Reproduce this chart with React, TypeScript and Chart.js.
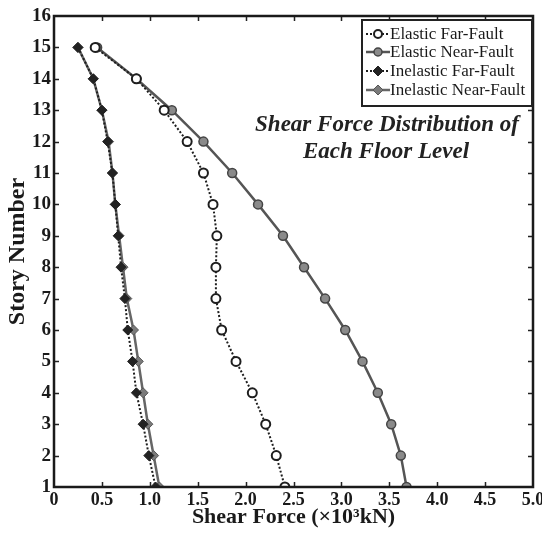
import React, { useEffect, useRef } from "react";
import { Chart, registerables } from "chart.js";

Chart.register(...registerables);

const stories = [15, 14, 13, 12, 11, 10, 9, 8, 7, 6, 5, 4, 3, 2, 1];
const elasticFar = [0.43, 0.86, 1.15, 1.39, 1.56, 1.66, 1.70, 1.69, 1.69, 1.75, 1.90, 2.07, 2.21, 2.32, 2.41];
const elasticNear = [0.45, 0.86, 1.23, 1.56, 1.86, 2.13, 2.39, 2.61, 2.83, 3.04, 3.22, 3.38, 3.52, 3.62, 3.68];
const inelasticFar = [0.25, 0.41, 0.50, 0.56, 0.61, 0.64, 0.67, 0.70, 0.74, 0.77, 0.82, 0.86, 0.93, 0.99, 1.06];
const inelasticNear = [0.25, 0.41, 0.50, 0.57, 0.61, 0.64, 0.68, 0.72, 0.76, 0.83, 0.88, 0.93, 0.98, 1.04, 1.10];
const legendLabels = ["Elastic Far-Fault", "Elastic Near-Fault", "Inelastic Far-Fault", "Inelastic Near-Fault"];
const noteLines = ["Shear Force Distribution of", "Each Floor Level"];

const SERIF = "'Liberation Serif', 'Times New Roman', serif";

const styles = [
  { color: "#1e1e1e", width: 2, dash: [2, 2], shape: "circle", radius: 4.5, fill: "#ffffff", border: "#1e1e1e", bw: 2 },
  { color: "#555555", width: 2.5, dash: [], shape: "circle", radius: 4.5, fill: "#8a8a8a", border: "#444444", bw: 1.5 },
  { color: "#1e1e1e", width: 2, dash: [2, 2], shape: "rectRot", radius: 5, fill: "#222222", border: "#222222", bw: 1 },
  { color: "#666666", width: 2.5, dash: [], shape: "rectRot", radius: 5, fill: "#7a7a7a", border: "#555555", bw: 1 },
];

const seriesList = [elasticFar, elasticNear, inelasticFar, inelasticNear];

const framePlugin = {
  id: "frame",
  afterDatasetsDraw(chart: any) {
    const { ctx, chartArea: a, scales } = chart;
    const xs = scales.x, ys = scales.y;
    ctx.save();
    ctx.strokeStyle = "#222";
    ctx.lineWidth = 1.5;
    ctx.setLineDash([]);
    const tl = 5;
    ctx.beginPath();
    for (let v = 0.5; v < 5; v += 0.5) {
      const px = Math.round(xs.getPixelForValue(v)) + 0.5;
      ctx.moveTo(px, a.bottom); ctx.lineTo(px, a.bottom - tl);
      ctx.moveTo(px, a.top); ctx.lineTo(px, a.top + tl);
    }
    for (let v = 2; v < 16; v += 1) {
      const py = Math.round(ys.getPixelForValue(v)) + 0.5;
      ctx.moveTo(a.left, py); ctx.lineTo(a.left + tl, py);
      ctx.moveTo(a.right, py); ctx.lineTo(a.right - tl, py);
    }
    ctx.stroke();
    ctx.lineWidth = 2.5;
    ctx.strokeStyle = "#1a1a1a";
    ctx.strokeRect(a.left, a.top, a.right - a.left, a.bottom - a.top);

    // note text
    ctx.fillStyle = "#222";
    ctx.font = `bold italic 23px ${SERIF}`;
    ctx.textAlign = "center";
    ctx.textBaseline = "middle";
    ctx.fillText(noteLines[0], 387, 125);
    ctx.fillText(noteLines[1], 386, 152);

    // legend
    const bx = 362, by = 20, bw = 170, bh = 86;
    ctx.fillStyle = "#fff";
    ctx.fillRect(bx, by, bw, bh);
    ctx.lineWidth = 2;
    ctx.strokeStyle = "#222";
    ctx.strokeRect(bx, by, bw, bh);
    ctx.font = `17px ${SERIF}`;
    ctx.textAlign = "left";
    ctx.textBaseline = "middle";
    const rows = [34, 52, 71, 90];
    styles.forEach((s, i) => {
      const y = rows[i];
      ctx.save();
      ctx.strokeStyle = s.color;
      ctx.lineWidth = s.width;
      ctx.setLineDash(s.dash);
      ctx.beginPath();
      ctx.moveTo(366, y); ctx.lineTo(390, y);
      ctx.stroke();
      ctx.setLineDash([]);
      ctx.fillStyle = s.fill;
      ctx.strokeStyle = s.border;
      ctx.lineWidth = s.bw;
      ctx.beginPath();
      const cx = 378;
      if (s.shape === "circle") {
        ctx.arc(cx, y, 4, 0, Math.PI * 2);
      } else {
        ctx.moveTo(cx, y - s.radius); ctx.lineTo(cx + s.radius, y);
        ctx.lineTo(cx, y + s.radius); ctx.lineTo(cx - s.radius, y); ctx.closePath();
      }
      ctx.fill(); ctx.stroke();
      ctx.restore();
      ctx.fillStyle = "#1a1a1a";
      ctx.fillText(legendLabels[i], 390, y + 1);
    });
    ctx.restore();
  },
};

export default function App() {
  const ref = useRef<HTMLCanvasElement | null>(null);
  useEffect(() => {
    document.body.style.margin = "0";
    const canvas = ref.current!;
    const chart = new Chart(canvas, {
      type: "scatter",
      data: {
        datasets: seriesList.map((vals, i) => {
          const s = styles[i];
          return {
            label: legendLabels[i],
            data: vals.map((v, j) => ({ x: v, y: stories[j] })),
            showLine: true,
            borderColor: s.color,
            borderWidth: s.width,
            borderDash: s.dash,
            pointStyle: s.shape as any,
            pointRadius: s.radius,
            pointBackgroundColor: s.fill,
            pointBorderColor: s.border,
            pointBorderWidth: s.bw,
            order: i % 2 === 0 ? 0 : 1,
          };
        }),
      },
      options: {
        animation: false,
        responsive: false,
        devicePixelRatio: 1,
        layout: { padding: { top: 16, right: 9, left: 0, bottom: 0 } },
        plugins: { legend: { display: false }, tooltip: { enabled: false } },
        scales: {
          x: {
            type: "linear",
            min: 0,
            max: 5,
            grid: { display: false, drawTicks: false },
            border: { display: false },
            ticks: {
              stepSize: 0.5,
              padding: 3,
              color: "#1a1a1a",
              font: { family: SERIF, size: 18, weight: "bold" },
              callback: (v: any) => (v === 0 ? "0" : Number(v).toFixed(1)),
            },
            title: {
              display: true,
              text: "Shear Force (×10³kN)",
              color: "#1a1a1a",
              font: { family: SERIF, size: 22, weight: "bold" },
              padding: { top: 0, bottom: 4 },
            },
            afterFit: (s: any) => { s.height = 48; s.paddingLeft = 0; s.paddingRight = 0; },
          },
          y: {
            type: "linear",
            min: 1,
            max: 16,
            grid: { display: false, drawTicks: false },
            border: { display: false },
            ticks: {
              stepSize: 1,
              padding: 3,
              color: "#1a1a1a",
              font: { family: SERIF, size: 19, weight: "bold" },
            },
            title: {
              display: true,
              text: "Story Number",
              color: "#1a1a1a",
              font: { family: SERIF, size: 24, weight: "bold" },
              padding: { top: 3, bottom: 0 },
            },
            afterFit: (s: any) => { s.width = 54; s.paddingTop = 0; s.paddingBottom = 0; },
          },
        },
      },
      plugins: [framePlugin],
    } as any);
    return () => chart.destroy();
  }, []);
  return (
    <div style={{ position: "fixed", left: 0, top: 0, width: 542, height: 535, background: "#fff" }}>
      <canvas ref={ref} width={542} height={535} />
    </div>
  );
}
